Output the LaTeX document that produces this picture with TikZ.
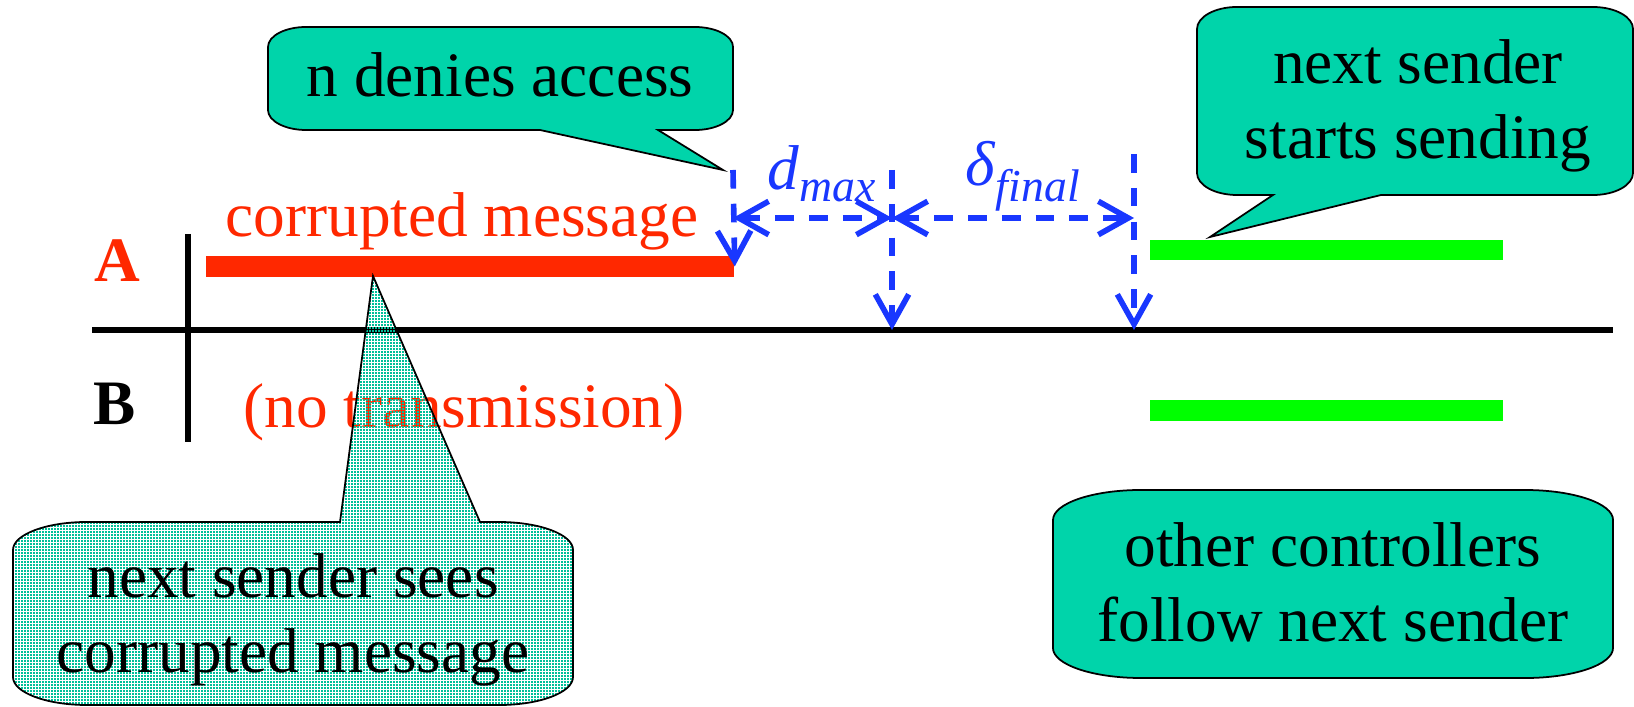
\documentclass[tikz,border=0pt]{standalone}
\usepackage{fontspec}
\setmainfont{Liberation Serif}
\usepackage{tikz}
\usetikzlibrary{arrows.meta,patterns,positioning}
\definecolor{bubblegreen}{RGB}{0,212,170}
\definecolor{msgred}{RGB}{255,40,0}
\definecolor{sendgreen}{RGB}{0,255,0}
\definecolor{timeblue}{RGB}{25,55,255}
% small square dots for the see-through bubble
\pgfdeclarepatternformonly{fine dots}{\pgfqpoint{0pt}{0pt}}{\pgfqpoint{0.9pt}{0.9pt}}{\pgfqpoint{0.9pt}{0.9pt}}{%
  \pgfpathrectangle{\pgfqpoint{0pt}{0pt}}{\pgfqpoint{0.68pt}{0.68pt}}\pgfusepath{fill}}
\tikzstyle{bubble} = [draw=black, line width=0.5pt, fill=bubblegreen]
\tikzstyle{dotbubble} = [draw=black, line width=0.5pt, pattern=fine dots, pattern color=bubblegreen!90!black]
\tikzstyle{bubbletext} = [align=center, inner sep=0pt, font=\fontsize{18}{21.3}\selectfont]
\tikzstyle{sigtext} = [inner sep=0pt, font=\fontsize{18}{21.3}\selectfont]
\tikzstyle{msgbar} = [inner sep=0pt, minimum height=0.205cm, anchor=west]
\tikzstyle{timing} = [timeblue, line width=1.6pt, dash pattern=on 5.3pt off 4.3pt, >={Straight Barb[length=8.5pt,width=9.5pt]}]

\begin{document}
\begin{tikzpicture}[x=0.01cm, y=-0.01cm]
\useasboundingbox (0,0) rectangle (1634,707);
% time axis and channel separator
\draw[line width=1.5pt] (92,330) -- (1613,330);
\draw[line width=1.5pt] (188,234) -- (188,442);
\node[sigtext, anchor=base, text=msgred, font=\fontsize{18}{21.3}\selectfont\bfseries] (chA) at (117,282) {A};
\node[sigtext, anchor=base, font=\fontsize{18}{21.3}\selectfont\bfseries] (chB) at (115,425) {B};

% frames on the two channels
\node[msgbar, fill=msgred, minimum width=5.28cm] (corrupt) at (205,266.5) {};
\node[msgbar, fill=sendgreen, minimum width=3.53cm] (nextA) at (1149,250) {};
\node[msgbar, fill=sendgreen, minimum width=3.53cm] (nextB) at (1149,410.5) {};
\node[sigtext, anchor=base, text=msgred] (corruptlbl) at (462,237) {corrupted message};
\node[sigtext, anchor=base, text=msgred] (idle) at (464,428) {(no transmission)};

% timing marks
\coordinate (v0) at (733,170);
\coordinate (v1) at (892,170);
\coordinate (v2) at (1134,154);
\coordinate (a1) at (892,330);
\coordinate (a2) at (1134,330);
\coordinate (d0) at (733,218);
\coordinate (d1) at (892,218);
\coordinate (d2) at (1134,218);
\draw[timing, ->] (v0) -- (corrupt.east);
\draw[timing, ->] (v1) -- (a1);
\draw[timing, ->] (v2) -- (a2);
\draw[timing, <->] (d0) -- (d1);
\draw[timing, <->] (d1) -- (d2);
\node[sigtext, anchor=base west, text=timeblue] (dmax) at (767,190) {\textit{d}\raisebox{-0.12cm}{\fontsize{13}{13}\selectfont\textit{max}}};
\node[sigtext, anchor=base west, text=timeblue] (dfinal) at (965,186) {\textit{δ}\raisebox{-0.15cm}{\fontsize{13}{13}\selectfont\textit{final}}};

% callouts
\coordinate (denytip) at (723,170);
\coordinate (starttip) at (1210,237);
\coordinate (seetip) at (373,276);
\draw[bubble, x radius=0.38cm, y radius=0.2cm] (306,27) -- (695,27) arc[start angle=90, end angle=0]
  -- (733,110) arc[start angle=0, end angle=-90] -- (658,130) -- (denytip) -- (540,130)
  -- (306,130) arc[start angle=270, end angle=180] -- (268,47) arc[start angle=180, end angle=90] -- cycle;
\node[bubbletext, anchor=base] (deny) at (500,97) {n denies access};

\draw[bubble, x radius=0.4cm, y radius=0.22cm] (1237,7) -- (1593,7) arc[start angle=90, end angle=0]
  -- (1633,173) arc[start angle=0, end angle=-90] -- (1381,195) -- (starttip) -- (1273,195)
  -- (1237,195) arc[start angle=270, end angle=180] -- (1197,29) arc[start angle=180, end angle=90] -- cycle;
\node[bubbletext] (starts) at (1418,105.5) {next sender\\starts sending};

\draw[dotbubble, x radius=0.74cm, y radius=0.28cm] (87,522) -- (340,522) -- (seetip) -- (480,522)
  -- (499,522) arc[start angle=90, end angle=0] -- (573,677) arc[start angle=0, end angle=-90]
  -- (87,705) arc[start angle=270, end angle=180] -- (13,550) arc[start angle=180, end angle=90] -- cycle;
\node[bubbletext] (sees) at (293,620) {next sender sees\\corrupted message};

\draw[bubble, x radius=0.88cm, y radius=0.3cm] (1141,490) -- (1525,490) arc[start angle=90, end angle=0]
  -- (1613,648) arc[start angle=0, end angle=-90] -- (1141,678) arc[start angle=270, end angle=180]
  -- (1053,520) arc[start angle=180, end angle=90] -- cycle;
\node[bubbletext] (follow) at (1333,582) {other controllers\\follow next sender};
\end{tikzpicture}
\end{document}
